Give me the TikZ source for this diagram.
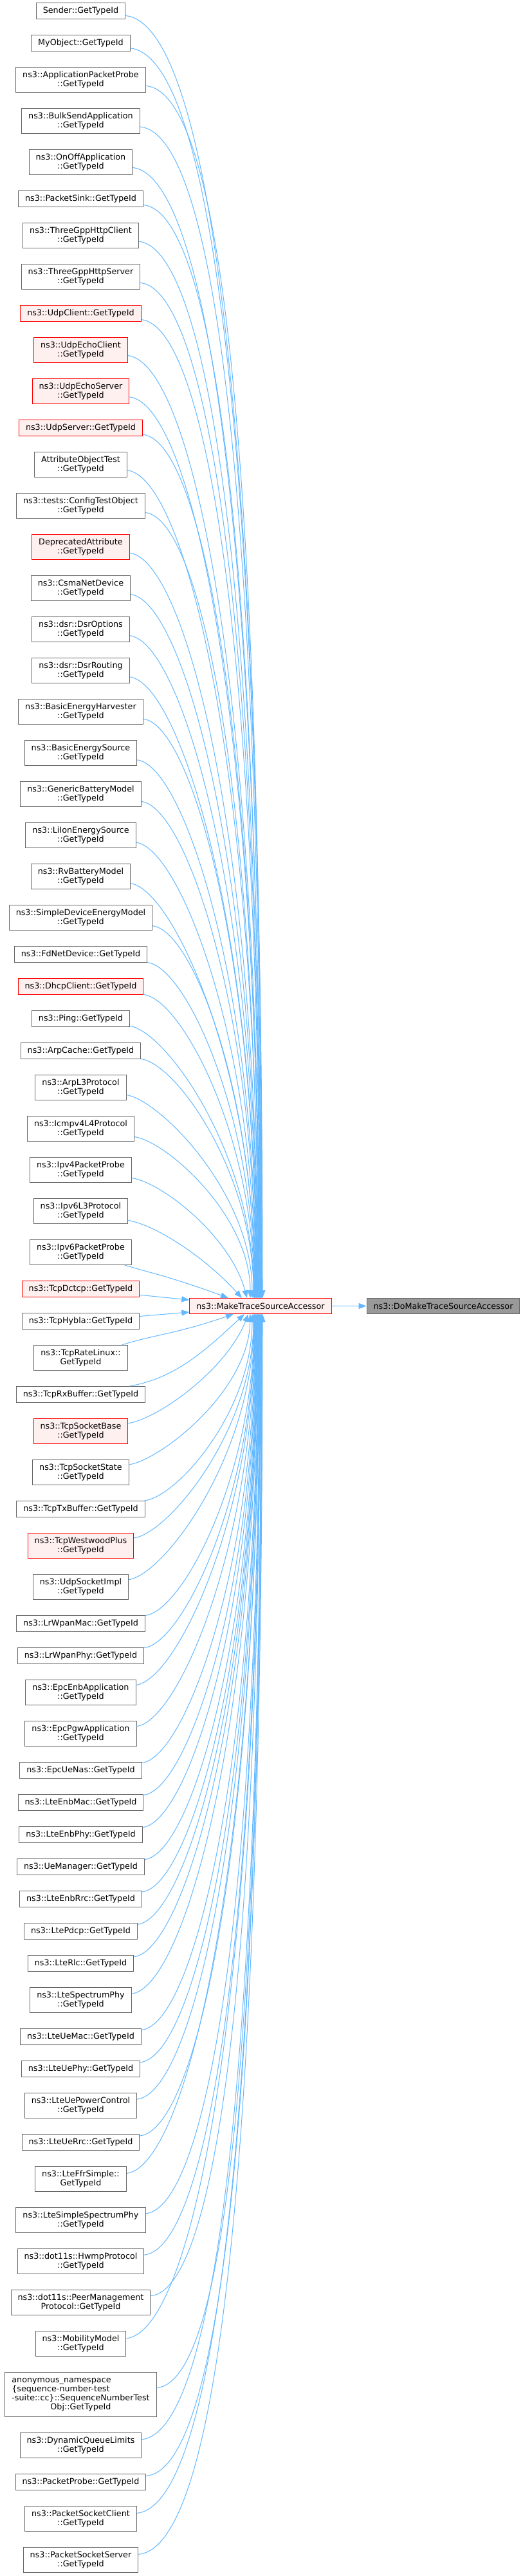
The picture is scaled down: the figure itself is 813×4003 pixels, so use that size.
\documentclass[tikz,border=0pt]{standalone}
\usepackage{fontspec}
\setmainfont{DejaVu Sans}
\usetikzlibrary{arrows.meta,calc}
\definecolor{edgeblue}{HTML}{63B8FF}
\definecolor{gfr}{HTML}{666666}
\definecolor{rfill}{HTML}{FFF0F0}
\definecolor{rootfill}{HTML}{999999}
\tikzset{
  nbox/.style={draw, rectangle, line width=1pt, inner xsep=10.5pt, inner ysep=0pt,
    align=center, font=\fontsize{12.75}{14}\selectfont, text=black},
  gbox/.style={nbox, draw=gfr, fill=white},
  rbox/.style={nbox, draw=red, fill=rfill},
  hone/.style={minimum height=25pt},
  htwo/.style={minimum height=39pt},
  hfour/.style={minimum height=69pt},
  gs/.style={gbox,hone}, gd/.style={gbox,htwo},
  rs/.style={rbox,hone}, rd/.style={rbox,htwo},
  callarrow/.style={draw=edgeblue, line width=1pt, -{Triangle[length=12pt,width=9pt]}},
}
\newcommand\lnode[4]{\node[#2] (#1) at (125.5,#3) {#4};}
% edge from a node above the callee to its top side
\newcommand\upedge[3]{%
  \pgfmathsetmacro\edD{2017-#2}%
  \pgfmathsetmacro\edA{40+0.04*\edD}%
  \pgfmathsetmacro\edV{20+max(0,150-\edD)*0.2}%
  \pgfmathsetmacro\edB{\edD*(0.45+0.00013*\edD)}%
  \pgfmathsetmacro\edX{max(0,250-\edD)*0.5}%
  \draw[callarrow] (#1) .. controls ($(#1.east)+(\edA,\edV)$) and ($(#3,2017)+(-\edX,-\edB)$) .. (#3,2017);}
% edge from a node below the callee to its bottom side
\newcommand\downedge[3]{%
  \pgfmathsetmacro\edD{#2-2042}%
  \pgfmathsetmacro\edA{40+0.04*\edD}%
  \pgfmathsetmacro\edV{20+max(0,150-\edD)*0.2}%
  \pgfmathsetmacro\edB{\edD*(0.45+0.00013*\edD)}%
  \pgfmathsetmacro\edX{max(0,250-\edD)*0.5}%
  \draw[callarrow] (#1) .. controls ($(#1.east)+(\edA,-\edV)$) and ($(#3,2042)+(-\edX,\edB)$) .. (#3,2042);}
\begin{document}
\begin{tikzpicture}[x=1pt,y=-1pt]
\useasboundingbox (0,0) rectangle (813,4003);
\fill[white] (0,0) rectangle (813,4003);

\lnode{n1}{gs}{17}{Sender::GetTypeId}
\lnode{n2}{gs}{67}{MyObject::GetTypeId}
\lnode{n3}{gd}{124}{ns3::ApplicationPacketProbe\\::GetTypeId}
\lnode{n4}{gd}{188}{ns3::BulkSendApplication\\::GetTypeId}
\lnode{n5}{gd}{252}{ns3::OnOffApplication\\::GetTypeId}
\lnode{n6}{gs}{309}{ns3::PacketSink::GetTypeId}
\lnode{n7}{gd}{366}{ns3::ThreeGppHttpClient\\::GetTypeId}
\lnode{n8}{gd}{430}{ns3::ThreeGppHttpServer\\::GetTypeId}
\lnode{n9}{rs}{487}{ns3::UdpClient::GetTypeId}
\lnode{n10}{rd}{544}{ns3::UdpEchoClient\\::GetTypeId}
\lnode{n11}{rd}{608}{ns3::UdpEchoServer\\::GetTypeId}
\lnode{n12}{rs}{665}{ns3::UdpServer::GetTypeId}
\lnode{n13}{gd}{722}{AttributeObjectTest\\::GetTypeId}
\lnode{n14}{gd}{786}{ns3::tests::ConfigTestObject\\::GetTypeId}
\lnode{n15}{rd}{850}{DeprecatedAttribute\\::GetTypeId}
\lnode{n16}{gd}{914}{ns3::CsmaNetDevice\\::GetTypeId}
\lnode{n17}{gd}{978}{ns3::dsr::DsrOptions\\::GetTypeId}
\lnode{n18}{gd}{1042}{ns3::dsr::DsrRouting\\::GetTypeId}
\lnode{n19}{gd}{1106}{ns3::BasicEnergyHarvester\\::GetTypeId}
\lnode{n20}{gd}{1170}{ns3::BasicEnergySource\\::GetTypeId}
\lnode{n21}{gd}{1234}{ns3::GenericBatteryModel\\::GetTypeId}
\lnode{n22}{gd}{1298}{ns3::LiIonEnergySource\\::GetTypeId}
\lnode{n23}{gd}{1362}{ns3::RvBatteryModel\\::GetTypeId}
\lnode{n24}{gd}{1426}{ns3::SimpleDeviceEnergyModel\\::GetTypeId}
\lnode{n25}{gs}{1483}{ns3::FdNetDevice::GetTypeId}
\lnode{n26}{rs}{1533}{ns3::DhcpClient::GetTypeId}
\lnode{n27}{gs}{1583}{ns3::Ping::GetTypeId}
\lnode{n28}{gs}{1633}{ns3::ArpCache::GetTypeId}
\lnode{n29}{gd}{1690}{ns3::ArpL3Protocol\\::GetTypeId}
\lnode{n30}{gd}{1754}{ns3::Icmpv4L4Protocol\\::GetTypeId}
\lnode{n31}{gd}{1818}{ns3::Ipv4PacketProbe\\::GetTypeId}
\lnode{n32}{gd}{1882}{ns3::Ipv6L3Protocol\\::GetTypeId}
\lnode{n33}{gd}{1946}{ns3::Ipv6PacketProbe\\::GetTypeId}
\lnode{n34}{rs}{2003}{ns3::TcpDctcp::GetTypeId}
\lnode{n35}{gs}{2053}{ns3::TcpHybla::GetTypeId}
\lnode{n36}{gd}{2110}{ns3::TcpRateLinux::\\GetTypeId}
\lnode{n37}{gs}{2167}{ns3::TcpRxBuffer::GetTypeId}
\lnode{n38}{rd}{2224}{ns3::TcpSocketBase\\::GetTypeId}
\lnode{n39}{gd}{2288}{ns3::TcpSocketState\\::GetTypeId}
\lnode{n40}{gs}{2345}{ns3::TcpTxBuffer::GetTypeId}
\lnode{n41}{rd}{2402}{ns3::TcpWestwoodPlus\\::GetTypeId}
\lnode{n42}{gd}{2466}{ns3::UdpSocketImpl\\::GetTypeId}
\lnode{n43}{gs}{2523}{ns3::LrWpanMac::GetTypeId}
\lnode{n44}{gs}{2573}{ns3::LrWpanPhy::GetTypeId}
\lnode{n45}{gd}{2630}{ns3::EpcEnbApplication\\::GetTypeId}
\lnode{n46}{gd}{2694}{ns3::EpcPgwApplication\\::GetTypeId}
\lnode{n47}{gs}{2751}{ns3::EpcUeNas::GetTypeId}
\lnode{n48}{gs}{2801}{ns3::LteEnbMac::GetTypeId}
\lnode{n49}{gs}{2851}{ns3::LteEnbPhy::GetTypeId}
\lnode{n50}{gs}{2901}{ns3::UeManager::GetTypeId}
\lnode{n51}{gs}{2951}{ns3::LteEnbRrc::GetTypeId}
\lnode{n52}{gs}{3001}{ns3::LtePdcp::GetTypeId}
\lnode{n53}{gs}{3051}{ns3::LteRlc::GetTypeId}
\lnode{n54}{gd}{3108}{ns3::LteSpectrumPhy\\::GetTypeId}
\lnode{n55}{gs}{3165}{ns3::LteUeMac::GetTypeId}
\lnode{n56}{gs}{3215}{ns3::LteUePhy::GetTypeId}
\lnode{n57}{gd}{3272}{ns3::LteUePowerControl\\::GetTypeId}
\lnode{n58}{gs}{3329}{ns3::LteUeRrc::GetTypeId}
\lnode{n59}{gd}{3386}{ns3::LteFfrSimple::\\GetTypeId}
\lnode{n60}{gd}{3450}{ns3::LteSimpleSpectrumPhy\\::GetTypeId}
\lnode{n61}{gd}{3514}{ns3::dot11s::HwmpProtocol\\::GetTypeId}
\lnode{n62}{gd}{3578}{ns3::dot11s::PeerManagement\\Protocol::GetTypeId}
\lnode{n63}{gd}{3642}{ns3::MobilityModel\\::GetTypeId}
\node[gbox,hfour] (n64) at (125.5,3721) {\begin{tabular}{@{}l@{}}anonymous\_namespace\\\{sequence-number-test\\-suite::cc\}::SequenceNumberTest\\\multicolumn{1}{@{}c@{}}{Obj::GetTypeId}\end{tabular}};
\lnode{n65}{gd}{3800}{ns3::DynamicQueueLimits\\::GetTypeId}
\lnode{n66}{gs}{3857}{ns3::PacketProbe::GetTypeId}
\lnode{n67}{gd}{3914}{ns3::PacketSocketClient\\::GetTypeId}
\lnode{n68}{gd}{3978}{ns3::PacketSocketServer\\::GetTypeId}

\node[rbox, minimum height=24.5pt] (m) at (405,2029.5) {ns3::MakeTraceSourceAccessor};
\node[nbox, draw=gfr, fill=rootfill, minimum height=24.5pt] (d) at (689,2029.5) {ns3::DoMakeTraceSourceAccessor};

% edges into the top side
\foreach \i/\yc in {1/17,2/67,3/124,4/188,5/252,6/309,7/366,8/430,9/487,10/544,
  11/608,12/665,13/722,14/786,15/850,16/914,17/978,18/1042,19/1106,20/1170,
  21/1234,22/1298,23/1362,24/1426,25/1483,26/1533,27/1583,28/1633}{
  \pgfmathsetmacro\xt{394+(28-\i)*14/27}
  \upedge{n\i}{\yc}{\xt}
}
\upedge{n29}{1690}{392}
\upedge{n30}{1754}{389}
\upedge{n31}{1818}{384}
\upedge{n32}{1882}{376}
\upedge{n33}{1946}{355}
% edges into the left side
\draw[callarrow] (n34) -- ([yshift=9.5pt]m.west);
\draw[callarrow] (n35) -- ([yshift=-9.5pt]m.west);
% edges into the bottom side
\downedge{n36}{2110}{363}
\downedge{n37}{2167}{380}
\downedge{n38}{2224}{386}
\downedge{n39}{2288}{389}
\downedge{n40}{2345}{392}
\foreach \i/\yc in {41/2402,42/2466,43/2523,44/2573,45/2630,46/2694,47/2751,
  48/2801,49/2851,50/2901,51/2951,52/3001,53/3051,54/3108,55/3165,56/3215,
  57/3272,58/3329,59/3386,60/3450,61/3514,62/3578,63/3642,64/3721,65/3800,
  66/3857,67/3914,68/3978}{
  \pgfmathsetmacro\xt{394+(\i-41)*14/27}
  \downedge{n\i}{\yc}{\xt}
}
% callee to its own callee
\draw[callarrow] (m) -- (d);
\end{tikzpicture}
\end{document}
